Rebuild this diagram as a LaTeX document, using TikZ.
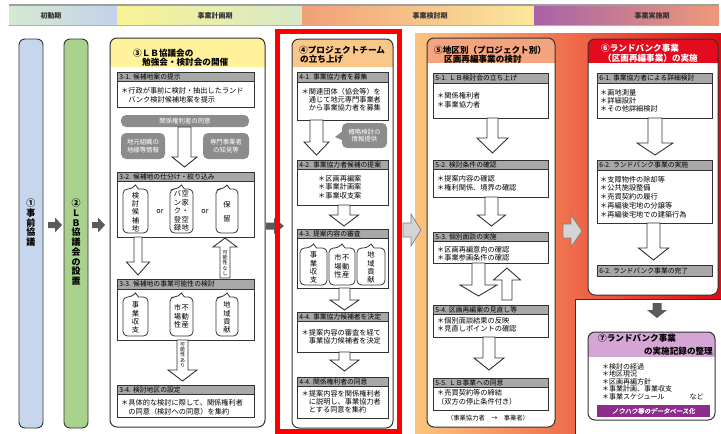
\documentclass[tikz,border=0pt]{standalone}
\usepackage{fontspec}
\setmainfont{Noto Sans CJK JP}
\newfontfamily\slantjp[FakeSlant=0.18,FakeBold=1.5]{Noto Sans CJK JP}
\usetikzlibrary{fit}
\definecolor{bord}{HTML}{333333}
\definecolor{hdrg}{HTML}{A8A8A8}
\definecolor{pillg}{HTML}{8C8C8C}
\definecolor{cA}{HTML}{C6D6EC}
\definecolor{cB}{HTML}{A9D18E}
\definecolor{tC}{HTML}{FFF29B}
\definecolor{tD}{HTML}{FAC78A}
\definecolor{tE}{HTML}{F4A47E}
\definecolor{tF}{HTML}{E30B1E}
\definecolor{tG}{HTML}{D5A6D5}
\definecolor{pbar}{HTML}{8E2C8E}
\definecolor{arrg}{HTML}{5A5A5A}
\definecolor{larrc}{HTML}{D4D4D4}
\definecolor{bgEl}{HTML}{FBC57E}
\definecolor{bgEr}{HTML}{EF6A4A}
\definecolor{bgFr}{HTML}{E00A14}
\definecolor{barAl}{HTML}{D6E9D0}
\definecolor{barAr}{HTML}{C3D2EC}
\definecolor{barBl}{HTML}{F8F493}
\definecolor{barBr}{HTML}{D8E8C8}
\definecolor{barCl}{HTML}{F0A078}
\definecolor{barCr}{HTML}{FBE89C}
\definecolor{barDl}{HTML}{A862A8}
\definecolor{barDr}{HTML}{EE9A78}
\newcommand\fbody{\fontsize{7.2}{8.3}\selectfont}
\newcommand\fbodyb{\fontsize{7.2}{8.7}\selectfont}
\newcommand\fbodyc{\fontsize{7}{7.6}\selectfont}
\newcommand\fhead{\fontsize{6.8}{8}\selectfont}
\newcommand\ftitle{\fontsize{8.6}{9.5}\selectfont\bfseries}
\newcommand\fpill{\fontsize{6.4}{7.6}\selectfont}
\newcommand\fvert{\fontsize{7.3}{8.4}\selectfont}
\newcommand\fcol{\fontsize{9}{9.7}\selectfont\bfseries}
\newcommand\fbar{\fontsize{7}{8}\selectfont\bfseries}
\newcommand\ftiny{\fontsize{5}{5.3}\selectfont}
\newcommand\fsmall{\fontsize{6.3}{7}\selectfont}
\newcommand\secframe[7]{%
  \begin{scope}
    \clip[rounded corners=7pt] (#2,#3) rectangle (#4,#5);
    \fill[white] (#2,#3) rectangle (#4,#5);
    \fill[#7] (#2,#3) rectangle (#4,#6);
  \end{scope}
  \node[fit={(#2,#3) (#4,#5)}, inner sep=0pt, draw=bord, line width=1pt, rounded corners=7pt] (#1) {};
}
\newcommand\stepbox[7]{%
  \node[fit={(#2,#3) (#6,#5)}, inner sep=0pt, draw=bord, fill=white, line width=0.9pt] (#1) {};
  \node[fit={(#2,#3) (#6,#4)}, inner sep=0pt, draw=bord, fill=hdrg, line width=0.9pt] (#1h) {};
  \node[anchor=west, inner sep=0pt, font=\fhead] (#1t) at ([xshift=2.5pt]#1h.west) {#7};
}
\newcommand\varr[7][harr]{%
  \draw[#1] ({#2-#6},#3) -- ({#2-#6},#4) -- ({#2-#7},#4) -- (#2,#5) -- ({#2+#7},#4) -- ({#2+#6},#4) -- ({#2+#6},#3) -- cycle;
}
\newcommand\harrow[7][garr]{%
  \draw[#1] (#3,{#2-#6}) -- (#4,{#2-#6}) -- (#4,{#2-#7}) -- (#5,#2) -- (#4,{#2+#7}) -- (#4,{#2+#6}) -- (#3,{#2+#6}) -- cycle;
}
\newcommand\callout[6]{%
  \draw[callst] (#2,{(#3+#5)/2}) [rounded corners=4.5pt] -- (#2,#3) -- ({(#2+#4)/2-3},#3) [sharp corners] -- ({(#2+#4)/2},#6) -- ({(#2+#4)/2+3},#3) [rounded corners=4.5pt] -- (#4,#3) -- (#4,#5) -- (#2,#5) -- cycle;
  \coordinate (#1) at ({(#2+#4)/2},{(#3+#5)/2+1});
}
\begin{document}
\begin{tikzpicture}[x=1pt,y=-1pt,
  harr/.style={draw=bord, fill=white, line width=0.9pt, line join=miter},
  garr/.style={draw=none, fill=arrg},
  larr/.style={draw=gray, fill=larrc, line width=0.7pt},
  callst/.style={draw=bord, fill=white, line width=0.8pt},
  pill/.style={fill=pillg, rounded corners=5pt, text=white, font=\fpill, align=center, inner sep=0pt},
  bodyt/.style={anchor=north west, inner sep=0pt, font=\fbody, align=left},
  vtext/.style={align=center, font=\fvert, inner sep=0pt},
  bartext/.style={font=\fbar, text=black!80, inner sep=0pt},
  ttl/.style={anchor=west, inner sep=0pt, font=\ftitle}]
\useasboundingbox (0,0) rectangle (721,434);
\fill[white] (0,0) rectangle (721,434);
% top bar
\fill[gray!75] (9,4) rectangle (719,6);
\shade[left color=barAl, right color=barAr] (9,6) rectangle (117,25);
\shade[left color=barBl, right color=barBr] (117,6) rectangle (302,25);
\shade[left color=barCl, right color=barCr] (302,6) rectangle (534,25);
\shade[left color=barDl, right color=barDr] (534,6) rectangle (719,25);
\draw[gray!60, line width=0.4pt] (9,25.2) -- (719,25.2);
\node[bartext] (ph1) at (51,15.5) {初動期};
\node[bartext] (ph2) at (215,15.5) {事業計画期};
\node[bartext] (ph3) at (430,15.5) {事業検討期};
\node[bartext] (ph4) at (652,15.5) {事業実施期};
% backgrounds of col 5 / col 6
\shade[left color=bgEl, right color=bgEr] (415,33) rectangle (575,434);
\shade[left color=bgEr, right color=bgFr] (575,33) rectangle (721,299);
\fill[white] (575,299) rectangle (721,434);
\draw[bord, line width=1pt] (575,434) -- (575,299) -- (721,299);
% col 1 and 2
\node[fit={(19,39) (43,428)}, inner sep=0pt, draw=bord, fill=cA, rounded corners=6pt, line width=0.9pt] (s1) {};
\node[anchor=north, font=\fcol, align=center, inner sep=0pt] (s1t) at (31,199) {①\\事\\前\\協\\議};
\node[fit={(64,39) (88,428)}, inner sep=0pt, draw=bord, fill=cB, rounded corners=6pt, line width=0.9pt] (s2) {};
\node[anchor=north, font=\fcol, align=center, inner sep=0pt] (s2t) at (76,199) {②\\Ｌ\\Ｂ\\協\\議\\会\\の\\設\\置};
\harrow{225}{48}{55}{62}{3}{7.5}
\harrow{225}{92}{98}{105}{3}{7.5}
% col 3
\secframe{s3}{110}{38}{265}{427}{67}{tC}
\node[ttl] (s3a) at (133,53) {③ＬＢ協議会の};
\node[ttl] (s3b) at (142,62) {勉強会・検討会の開催};
\stepbox{b31}{117}{72}{81}{107}{254}{3-1. 候補地案の提示}
\node[bodyt] (b31b) at (121,87.5) {＊行政が事前に検討・抽出したランド\\　バンク検討候補地案を提示};
\node[pill, minimum width=128pt, minimum height=12pt] (p1) at (185,121) {関係権利者の同意};
\node[pill, minimum width=44pt, minimum height=26pt] (p2) at (143,146) {地元組織の\\地縁等情報};
\node[pill, minimum width=46pt, minimum height=26pt] (p3) at (226,146) {専門事業者\\の知見等};
\varr{184.5}{127}{157}{167}{6.5}{12.5}
\stepbox{b32}{117}{172}{181}{237}{254}{3-2. 候補地の仕分け・絞り込み}
\callout{c321}{123}{189}{148}{233}{185}
\callout{c322}{170}{189}{193}{233}{185}
\callout{c323}{216}{189}{238}{233}{185}
\node[vtext] at (c321) {検\\討\\候\\補\\地};
\node[vtext] at (c322) {\begin{tabular}{@{}c@{\hspace{0.5pt}}c@{}}バ&空\\ン&家\\ク&・\\登&空\\録&地\end{tabular}};
\node[vtext] at (c323) {保\\[6pt]留};
\node[font=\fbody, inner sep=0pt] (or1) at (160,212) {or};
\node[font=\fbody, inner sep=0pt] (or2) at (205,212) {or};
\varr{138}{237}{262}{275}{4}{11.5}
\varr{225}{278}{247}{238}{5}{12}
\node[vtext, font=\ftiny] (nl1) at (225,263) {可\\能\\性\\な\\し};
\stepbox{b33}{117}{279}{289}{340}{254}{3-3. 候補地の事業可能性の検討}
\callout{c331}{123}{297}{148}{336}{293}
\callout{c332}{170}{297}{193}{336}{293}
\callout{c333}{216}{297}{238}{336}{293}
\node[vtext] at (c331) {事\\業\\収\\支};
\node[vtext] at (c332) {\begin{tabular}{@{}c@{\hspace{0.5pt}}c@{}}市&不\\場&動\\性&産\end{tabular}};
\node[vtext] at (c333) {地\\域\\貢\\献};
\varr{182.5}{340}{370}{381}{5.5}{14.5}
\node[vtext, font=\ftiny] (nl2) at (182.5,355) {可\\能\\性\\あ\\り};
\stepbox{b34}{117}{385}{394}{417}{254}{3-4. 検討地区の設定}
\node[bodyt] (b34b) at (121,399.5) {＊具体的な検討に際して、関係権利者\\　の同意（検討への同意）を集約};
\harrow{226}{266}{274}{284}{3.5}{8}
% col 4
\node[fit={(277.5,31.5) (399.5,431.5)}, inner sep=0pt, draw=red, line width=5pt] (redf) {};
\secframe{s4}{292}{39}{393}{428}{67}{tD}
\node[ttl] (s4a) at (299,50) {④プロジェクトチーム};
\node[ttl] (s4b) at (300,59) {の立ち上げ};
\stepbox{b41}{297}{72}{82}{120}{388}{4-1. 事業協力者を募集}
\node[bodyt] (b41b) at (301.5,88) {＊関連団体（協会等）を\\　通じて地元専門事業者\\　から事業協力者を募集};
\varr{316.5}{120}{142}{155}{6.5}{12.5}
\fill[pillg] (344,130) -- (335,137) -- (344,141) -- cycle;
\node[pill, minimum width=45pt, minimum height=25pt] (p4) at (364.5,135.5) {概略検討の\\情報提供};
\stepbox{b42}{297}{160}{169}{205}{388}{4-2. 事業協力者候補の提案}
\node[bodyt, font=\fbodyb] (b42b) at (318,175) {＊区画再編案\\＊事業計画案\\＊事業収支案};
\varr{344}{205}{215}{226}{6}{14.5}
\stepbox{b43}{297}{229}{238}{288}{388}{4-3. 提案内容の審査}
\callout{c431}{300}{248}{327}{285}{244}
\callout{c432}{329}{248}{355}{285}{244}
\callout{c433}{357}{248}{385}{285}{244}
\node[vtext] at (c431) {事\\業\\収\\支};
\node[vtext] at (c432) {\begin{tabular}{@{}c@{\hspace{0.5pt}}c@{}}市&不\\場&動\\性&産\end{tabular}};
\node[vtext] at (c433) {地\\域\\貢\\献};
\varr{344.5}{288}{300}{310}{5.5}{14.5}
\stepbox{b44}{297}{312}{321}{352}{388}{4-4. 事業協力候補者を決定}
\node[bodyt] (b44b) at (301.5,329) {＊提案内容の審査を経て\\　事業協力候補者を決定};
\varr{344.5}{352}{360}{371}{5.5}{14.5}
\stepbox{b45}{297}{377}{386}{418}{388}{4-4. 関係権利者の同意}
\node[bodyt] (b45b) at (301.5,390) {＊提案内容を関係権利者\\　に説明し、事業協力者\\　とする同意を集約};
\harrow[larr]{230}{403}{411}{421}{7}{16}
% col 5
\secframe{s5}{427}{38}{555}{427}{63}{tE}
\node[ttl] (s5a) at (434,50) {⑤地区別（プロジェクト別）};
\node[ttl] (s5b) at (444,59) {区画再編事業の検討};
\stepbox{b51}{433}{73}{83}{118}{548}{5-1. ＬＢ検討会の立ち上げ}
\node[bodyt] (b51b) at (437,92.5) {＊関係権利者\\＊事業協力者};
\varr{492.5}{118}{138}{153}{5.5}{15.5}
\stepbox{b52}{433}{160}{169}{197}{548}{5-2. 検討条件の確認}
\node[bodyt] (b52b) at (437,175.5) {＊提案内容の確認\\＊権利関係、境界の確認};
\varr{491.5}{197}{215}{226}{6.5}{14}
\stepbox{b53}{433}{232}{241}{263}{548}{5-3. 個別面談の実施}
\node[bodyt] (b53b) at (437,246) {＊区画再編意向の確認\\＊事業参画条件の確認};
\varr{478.5}{263}{285}{296}{6.5}{18.5}
\varr{507}{300}{280}{268}{5}{13.5}
\stepbox{b54}{433}{305}{314}{337}{548}{5-4. 区画再編案の見直し等}
\node[bodyt] (b54b) at (437,317) {＊個別面談結果の反映\\＊見直しポイントの確認};
\varr{489}{337}{358}{370}{6}{15}
\stepbox{b55}{433}{378}{387}{410}{548}{5-5. ＬＢ事業への同意}
\node[bodyt] (b55b) at (437,389.5) {＊売買契約等の締結\\（双方の停止条件付き）};
\node[font=\fsmall, inner sep=0pt] (n5) at (488,418) {（事業協力者　→　事業者）};
\harrow[larr]{231}{563}{571}{582}{7}{16}
% col 6
\secframe{s6}{588}{39}{718}{295}{63}{tF}
\node[ttl, text=white] (s6a) at (601,48) {⑥ランドバンク事業};
\node[ttl, text=white] (s6b) at (603,58) {（区画再編事業）の実施};
\stepbox{b61}{597}{73}{83}{118}{712}{6-1. 事業協力者による詳細検討}
\node[bodyt] (b61b) at (600,89) {＊画地測量\\＊詳細設計\\＊その他詳細検討};
\varr{655}{118}{143}{155}{7}{18}
\stepbox{b62}{597}{160}{170}{223}{712}{6-2. ランドバンク事業の実施}
\node[bodyt, font=\fbodyb] (b62b) at (600,176) {＊支障物件の除却等\\＊公共施設整備\\＊売買契約の履行\\＊再編後宅地の分譲等\\＊再編後宅地での建築行為};
\varr{653.5}{223}{248}{260}{6.5}{15}
\node[fit={(597,265) (712,276)}, inner sep=0pt, draw=bord, fill=hdrg, line width=0.9pt] (b63) {};
\node[anchor=west, inner sep=0pt, font=\fhead] (b63t) at ([xshift=2.5pt]b63.west) {6-2. ランドバンク事業の完了};
\varr[garr]{657}{303}{310}{318}{4.5}{10}
% col 7
\secframe{s7}{588}{332}{715}{420}{357}{tG}
\node[ttl] (s7a) at (598,338.5) {⑦ランドバンク事業};
\node[ttl, anchor=east] (s7b) at (713,351.5) {の実施記録の整理};
\node[bodyt, font=\fbodyc] (s7c) at (602,363) {＊検討の経過\\＊地区現況\\＊区画再編方針\\＊事業計画、事業収支\\＊事業スケジュール\hspace{25pt}など};
\node[fit={(597,405) (710,417)}, inner sep=0pt, fill=pbar] (pb) {};
\node[font=\fpill, text=white, inner sep=0pt] (pbt) at (pb) {\slantjp ノウハウ等のデータベース化};
\end{tikzpicture}
\end{document}
